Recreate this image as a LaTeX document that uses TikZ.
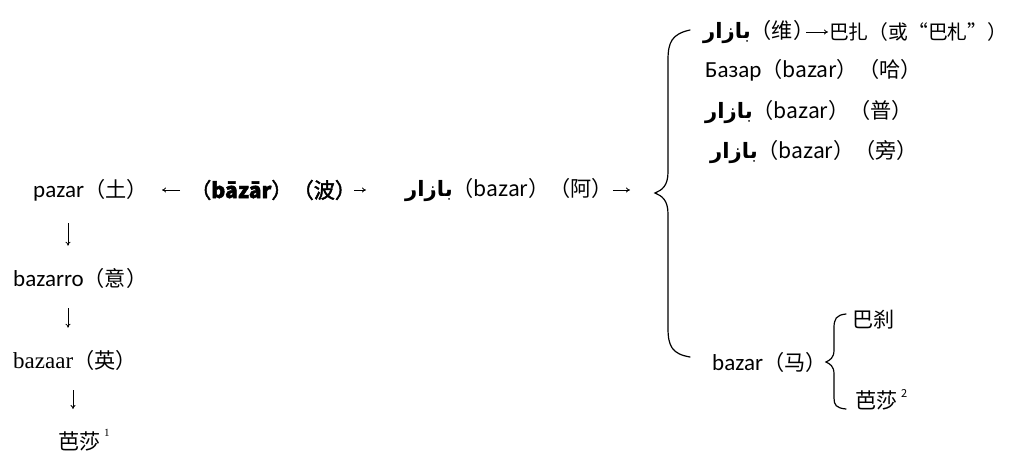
\documentclass[tikz,border=0pt]{standalone}
\usepackage{fontspec}
\setmainfont{Carlito}
\newfontfamily\cjk[Scale=0.92]{Noto Sans CJK SC}
\newfontfamily\cjkb[Scale=0.92,FakeBold=2]{Noto Sans CJK SC}
\newfontfamily\ar[Script=Arabic,Scale=0.92]{DejaVu Sans Bold}
\newfontfamily\sr{Liberation Serif}
\TeXXeTstate=1
\usetikzlibrary{arrows.meta}
\newcommand{\arw}{{\ar\beginR بازار\endR}}
\begin{document}
\begin{tikzpicture}[x=1pt,y=-1pt,
  txt/.style={anchor=west,inner sep=0pt,font=\fontsize{23}{26}\selectfont},
  arr/.style={-{To[length=4pt,width=5pt]},line width=0.8pt},
  brace/.style={line width=1.2pt,line cap=round}]
\useasboundingbox (0,0) rectangle (1012,457);
% main row
\node[txt] (pz) at (33,190) {pazar\cjk{（土）}};
\node[txt] (bz) at (190,190) {\cjkb{（}\textbf{bāzār}\cjkb{）（波）}};
\node[txt] (ba) at (405,190) {\arw\cjk{（}bazar\cjk{）（阿）}};
\coordinate (a1) at (162,190);
\coordinate (a2) at (366,190);
\coordinate (a3) at (630,190);
% left column
\node[txt] (bo) at (13,278) {bazarro\cjk{（意）}};
\node[txt] (be) at (13,360) {{\sr bazaar}\cjk{（英）}};
\node[txt] (b1) at (58,440) {\cjk{芭莎}\,\raisebox{1.1ex}{\sr\fontsize{11}{12}\selectfont 1}};
% right column
\node[txt] (r1a) at (703,32) {\arw\cjk{（维）}};
\node[txt,font=\fontsize{21.5}{24}\selectfont] (r1b) at (829,32) {\cjk{巴扎（或}“\cjk{巴札}”\cjk{）}};
\node[txt] (r2) at (705,70) {Базар\cjk{（}bazar\cjk{）（哈）}};
\node[txt] (r3) at (705,112) {\arw\cjk{（}bazar\cjk{）（普）}};
\node[txt] (r4) at (710,152) {\arw\cjk{（}bazar\cjk{）（旁）}};
\node[txt] (ma) at (712,362) {bazar\cjk{（马）}};
\node[txt] (bs) at (852,320) {\cjk{巴刹}};
\node[txt] (b2) at (855,400) {\cjk{芭莎}\,\raisebox{1.0ex}{\fontsize{12}{13}\selectfont 2}};
% horizontal arrows
\draw[arr,shorten <=10pt] (bz.west) -- (a1);
\draw[arr,shorten <=-2pt] (bz.east) -- (a2);
\draw[arr] (ba.east) -- (a3);
\draw[arr,shorten <=-8pt,shorten >=1pt] (r1a.east) -- (r1b.west);
% vertical arrows
\coordinate (v) at (68,0);
\coordinate (w) at (73,0);
\draw[arr,shorten <=22pt,shorten >=22pt] (pz.south -| v) -- (bo.north -| v);
\draw[arr,shorten <=20pt,shorten >=22pt] (bo.south -| v) -- (be.north -| v);
\draw[arr,shorten <=20pt,shorten >=20pt] (be.south -| w) -- (b1.north -| w);
% big brace
\draw[brace] (690,30) .. controls (672,34) and (668,42) .. (668,60)
  -- (668,172) .. controls (668,186) and (662,190) .. (655,193)
  .. controls (662,196) and (668,200) .. (668,214)
  -- (668,328) .. controls (668,346) and (672,354) .. (690,357);
% small brace
\draw[brace] (846,314) .. controls (836,315) and (834,319) .. (834,328)
  -- (834,350) .. controls (834,358) and (830,360) .. (826,362)
  .. controls (830,364) and (834,366) .. (834,374)
  -- (834,398) .. controls (834,405) and (836,408) .. (846,409);
\end{tikzpicture}
\end{document}
